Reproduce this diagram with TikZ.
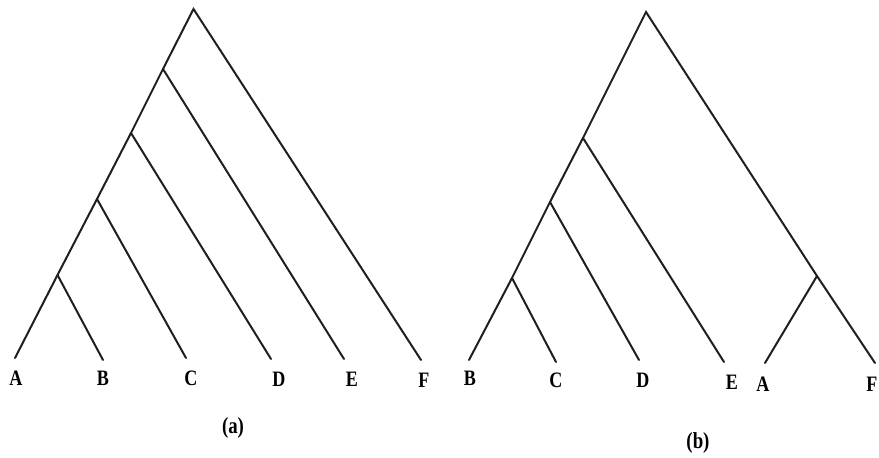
\documentclass[tikz,border=0pt]{standalone}
\usepackage{fontspec}
\setmainfont{Liberation Serif}
\newfontfamily\treefont[FakeStretch=0.82]{Liberation Serif}
\usetikzlibrary{positioning}

\begin{document}
\begin{tikzpicture}[
  x=1pt, y=-1pt,
  branch/.style={line width=2pt, line cap=round, line join=miter, black!88},
  leaf/.style={font=\treefont\bfseries\fontsize{22}{24}\selectfont, inner sep=0pt},
  caption/.style={font=\treefont\bfseries\fontsize{23}{26}\selectfont, inner sep=0pt},
]
\useasboundingbox (0,0) rectangle (879,458);

% ============ TREE (a) ============
\coordinate (a0) at (193.5,9);
\coordinate (a1) at (163,69);
\coordinate (a2) at (131,133);
\coordinate (a3) at (97,199);
\coordinate (a4) at (57.5,275);
\coordinate (aA) at (15,358);
\coordinate (aB) at (103,360);
\coordinate (aC) at (186,358);
\coordinate (aD) at (271,359);
\coordinate (aE) at (344,359);
\coordinate (aF) at (421,360);
\draw[branch] (aA) -- (a4) -- (a3) -- (a2) -- (a1) -- (a0) -- (aF);
\draw[branch] (a4) -- (aB);
\draw[branch] (a3) -- (aC);
\draw[branch] (a2) -- (aD);
\draw[branch] (a1) -- (aE);

\node[leaf] (lblaA) at (16,378)  {A};
\node[leaf] (lblaB) at (103,378) {B};
\node[leaf] (lblaC) at (191,378) {C};
\node[leaf] (lblaD) at (279,379) {D};
\node[leaf] (lblaE) at (352,379) {E};
\node[leaf] (lblaF) at (424,380) {F};
\node[caption] (capa) at (233,428) {(a)};

% ============ TREE (b) ============
\coordinate (b0) at (646,12);
\coordinate (b1) at (583,138);
\coordinate (b2) at (550,202);
\coordinate (b3) at (512,278);
\coordinate (b4) at (817,276);
\coordinate (bB) at (469,360);
\coordinate (bC) at (556,362);
\coordinate (bD) at (639,360);
\coordinate (bE) at (724,362);
\coordinate (bA) at (765,363);
\coordinate (bF) at (875,363);
\draw[branch] (bB) -- (b3) -- (b2) -- (b1) -- (b0) -- (b4) -- (bF);
\draw[branch] (b3) -- (bC);
\draw[branch] (b2) -- (bD);
\draw[branch] (b1) -- (bE);
\draw[branch] (b4) -- (bA);

\node[leaf] (lblbB) at (470,378) {B};
\node[leaf] (lblbC) at (556,380) {C};
\node[leaf] (lblbD) at (643,380) {D};
\node[leaf] (lblbE) at (732,382) {E};
\node[leaf] (lblbA) at (763,384) {A};
\node[leaf] (lblbF) at (872,384) {F};
\node[caption] (capb) at (698,443) {(b)};

\end{tikzpicture}
\end{document}
